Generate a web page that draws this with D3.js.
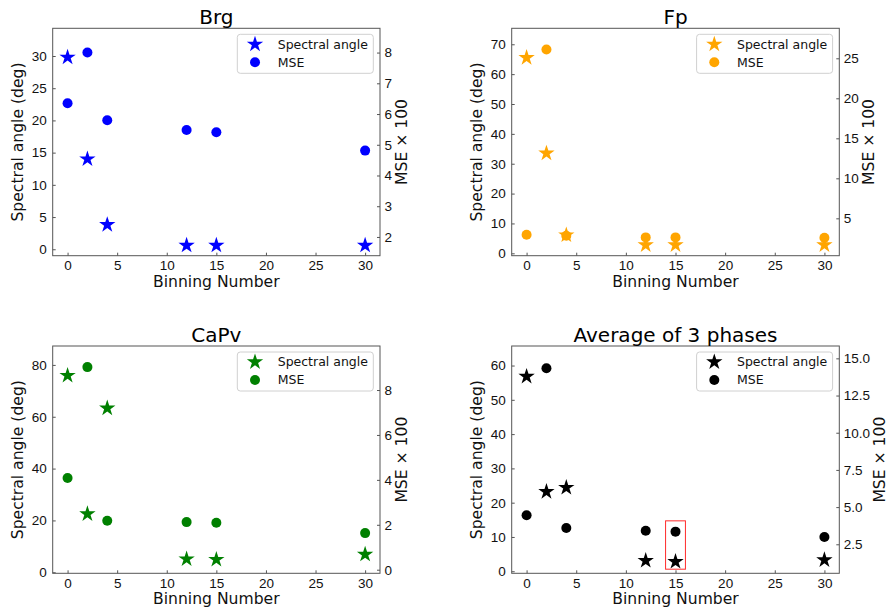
<!DOCTYPE html>
<html>
<head>
<meta charset="utf-8">
<script src="https://cdn.jsdelivr.net/npm/d3@7"></script>
<style>
  html, body { margin: 0; padding: 0; background: #fff; }
  svg { display: block; font-family: "DejaVu Sans", sans-serif; }
</style>
</head>
<body>
<svg id="chart" width="892" height="612"></svg>
<script>
// Binning numbers shared by every panel
const binning = [0, 2, 4, 12, 15, 30];
const xTicks = [0, 5, 10, 15, 20, 25, 30];

// Spectral angle (deg) and MSE x 100 for each phase
const brgAngle = [29.8, 14.0, 3.8, 0.6, 0.6, 0.6];
const brgMse = [6.35, 8.0, 5.8, 5.48, 5.41, 4.81];

const fpAngle = [65.5, 33.5, 6.1, 2.8, 2.8, 2.8];
const fpMse = [2.95, 26.1, 2.82, 2.62, 2.62, 2.58];

const capvAngle = [75.9, 22.5, 63.3, 5.1, 4.9, 6.9];
const capvMse = [4.08, 9.02, 2.18, 2.12, 2.09, 1.63];

const avgAngle = [56.8, 23.2, 24.4, 3.1, 2.8, 3.3];
const avgMse = [4.45, 14.33, 3.6, 3.41, 3.35, 2.99];

// Tick values per axis
const brgAngleTicks = [0, 5, 10, 15, 20, 25, 30];
const brgMseTicks = [2, 3, 4, 5, 6, 7, 8];
const fpAngleTicks = [0, 10, 20, 30, 40, 50, 60, 70];
const fpMseTicks = [5, 10, 15, 20, 25];
const capvAngleTicks = [0, 20, 40, 60, 80];
const capvMseTicks = [0, 2, 4, 6, 8];
const avgAngleTicks = [0, 10, 20, 30, 40, 50, 60];
const avgMseTicks = [2.5, 5.0, 7.5, 10.0, 12.5, 15.0];

// Highlighted region in the averaged panel (binning range, angle range)
const highlightX = [14, 16];
const highlightY = [0.6, 14.7];

const panels = [
  { title: "Brg", color: "#0000ff", angle: brgAngle, mse: brgMse,
    box: [52.7, 28.3, 380, 255.7], angleDomain: [-1.0, 34.3], mseDomain: [1.39, 8.79],
    angleTicks: brgAngleTicks, mseTicks: brgMseTicks, mseFmt: d3.format("d") },
  { title: "Fp", color: "#ffa500", angle: fpAngle, mse: fpMse,
    box: [511.7, 28.3, 839.3, 255.7], angleDomain: [-0.8, 75.35], mseDomain: [0.33, 28.75],
    angleTicks: fpAngleTicks, mseTicks: fpMseTicks, mseFmt: d3.format("d") },
  { title: "CaPv", color: "#008000", angle: capvAngle, mse: capvMse,
    box: [52.7, 346, 380, 573.3], angleDomain: [-0.4, 87.3], mseDomain: [-0.16, 9.96],
    angleTicks: capvAngleTicks, mseTicks: capvMseTicks, mseFmt: d3.format("d") },
  { title: "Average of 3 phases", color: "#000000", angle: avgAngle, mse: avgMse,
    box: [511.7, 346, 839.3, 573.3], angleDomain: [-0.6, 65.7], mseDomain: [0.55, 15.83],
    angleTicks: avgAngleTicks, mseTicks: avgMseTicks, mseFmt: d3.format(".1f"),
    highlight: true }
];

const svg = d3.select("#chart");
const frameColor = "#555555";
const textColor = "#111111";
const tickFont = 13.5;
const labelFont = 15.6;

// Five-pointed star, point up, outer radius R (inner ratio 0.382)
function starPath(R) {
  const r = R * 0.381966;
  const pts = [];
  for (let i = 0; i < 10; i++) {
    const rad = i % 2 === 0 ? R : r;
    const a = -Math.PI / 2 + i * Math.PI / 5;
    pts.push([rad * Math.cos(a), rad * Math.sin(a)]);
  }
  return "M" + pts.map(p => p[0].toFixed(3) + "," + p[1].toFixed(3)).join("L") + "Z";
}
const STAR = starPath(8.6);
const DOT_R = 5;

panels.forEach(p => {
  const [x0, y0, x1, y1] = p.box;
  const g = svg.append("g");

  const x = d3.scaleLinear().domain([-1.5, 31.5]).range([x0, x1]);
  const yA = d3.scaleLinear().domain(p.angleDomain).range([y1, y0]);
  const yM = d3.scaleLinear().domain(p.mseDomain).range([y1, y0]);

  const styleAxis = sel => {
    sel.select(".domain").remove();
    sel.selectAll(".tick line").attr("stroke", frameColor).attr("stroke-width", 1);
    sel.selectAll(".tick text").attr("fill", textColor)
      .style("font-size", tickFont + "px");
  };

  // Bottom axis (ticks point inward)
  g.append("g").attr("transform", `translate(0,${y1})`)
    .call(d3.axisBottom(x).tickValues(xTicks).tickSize(-3).tickPadding(5).tickFormat(d3.format("d")))
    .call(styleAxis);

  // Left axis: spectral angle
  g.append("g").attr("transform", `translate(${x0},0)`)
    .call(d3.axisLeft(yA).tickValues(p.angleTicks).tickSize(-3).tickPadding(6).tickFormat(d3.format("d")))
    .call(styleAxis);

  // Right axis: MSE x 100
  const rightAxis = g.append("g").attr("transform", `translate(${x1},0)`)
    .call(d3.axisRight(yM).tickValues(p.mseTicks).tickSize(-3).tickPadding(4.5).tickFormat(p.mseFmt))
    .call(styleAxis);

  // Frame
  g.append("rect")
    .attr("x", x0).attr("y", y0).attr("width", x1 - x0).attr("height", y1 - y0)
    .attr("fill", "none").attr("stroke", frameColor).attr("stroke-width", 1);

  // Title
  g.append("text").attr("x", (x0 + x1) / 2).attr("y", y0 - 4.3)
    .attr("text-anchor", "middle").attr("fill", "#000")
    .style("font-size", "20px").text(p.title);

  // Axis labels
  g.append("text").attr("x", (x0 + x1) / 2).attr("y", y1 + 30.8)
    .attr("text-anchor", "middle").attr("fill", textColor)
    .style("font-size", labelFont + "px").text("Binning Number");

  g.append("text")
    .attr("transform", `translate(${x0 - 30},${(y0 + y1) / 2}) rotate(-90)`)
    .attr("text-anchor", "middle").attr("fill", textColor)
    .style("font-size", labelFont + "px").text("Spectral angle (deg)");

  let maxW = 0;
  rightAxis.selectAll(".tick text").each(function () {
    maxW = Math.max(maxW, this.getComputedTextLength());
  });
  const rlx = x1 + 4.5 + maxW + 3.5 + 11.4;
  g.append("text")
    .attr("transform", `translate(${rlx},${(y0 + y1) / 2}) rotate(-90)`)
    .attr("text-anchor", "middle").attr("fill", textColor)
    .style("font-size", labelFont + "px").text("MSE \u00d7 100");

  // MSE points (drawn beneath the stars)
  g.append("g").selectAll("circle").data(binning).join("circle")
    .attr("cx", d => x(d)).attr("cy", (d, i) => yM(p.mse[i]))
    .attr("r", DOT_R).attr("fill", p.color);

  // Spectral angle points
  g.append("g").selectAll("path").data(binning).join("path")
    .attr("d", STAR)
    .attr("transform", (d, i) => `translate(${x(d)},${yA(p.angle[i])})`)
    .attr("fill", p.color);

  // Highlight box
  if (p.highlight) {
    g.append("rect")
      .attr("x", x(highlightX[0])).attr("y", yA(highlightY[1]))
      .attr("width", x(highlightX[1]) - x(highlightX[0]))
      .attr("height", yA(highlightY[0]) - yA(highlightY[1]))
      .attr("fill", "none").attr("stroke", "#ff2a2a").attr("stroke-width", 1);
  }

  // Legend
  const lw = 136, lh = 39;
  const lx = x1 - 6.7 - lw, ly = y0 + 6;
  const lg = g.append("g").attr("transform", `translate(${lx},${ly})`);
  lg.append("rect").attr("width", lw).attr("height", lh).attr("rx", 3)
    .attr("fill", "#fff").attr("fill-opacity", 0.8)
    .attr("stroke", "#d0d0d0").attr("stroke-width", 1);
  lg.append("path").attr("d", STAR).attr("transform", "translate(17.7,10)").attr("fill", p.color);
  lg.append("circle").attr("cx", 17.7).attr("cy", 28).attr("r", DOT_R).attr("fill", p.color);
  lg.append("text").attr("x", 40.4).attr("y", 10).attr("dy", "0.35em")
    .attr("fill", textColor).style("font-size", "12.5px").text("Spectral angle");
  lg.append("text").attr("x", 40.4).attr("y", 28).attr("dy", "0.35em")
    .attr("fill", textColor).style("font-size", "12.5px").text("MSE");
});
</script>
</body>
</html>
